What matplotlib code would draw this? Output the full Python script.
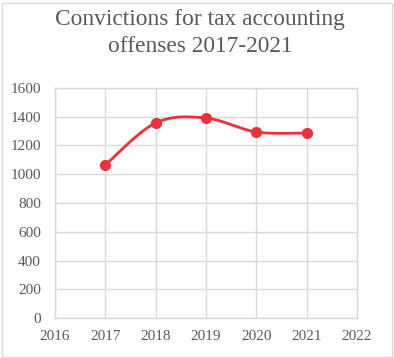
import numpy as np
import matplotlib
matplotlib.use("Agg")
import matplotlib.pyplot as plt
from matplotlib.patches import Rectangle

years = [2017, 2018, 2019, 2020, 2021]
convictions = [1064, 1357, 1391, 1294, 1287]
title = "Convictions for tax accounting\noffenses 2017-2021"
x_ticks = [2016, 2017, 2018, 2019, 2020, 2021, 2022]
y_ticks = [0, 200, 400, 600, 800, 1000, 1200, 1400, 1600]


def smooth(xs, ys, n=40):
    # Excel-like smoothed line (Catmull-Rom as cubic Bezier)
    xs = np.asarray(xs, float)
    ys = np.asarray(ys, float)
    px = np.concatenate([[xs[0]], xs, [xs[-1]]])
    py = np.concatenate([[ys[0]], ys, [ys[-1]]])
    ox, oy = [], []
    t = np.linspace(0, 1, n)
    for i in range(1, len(px) - 2):
        p0 = np.array([px[i], py[i]])
        p3 = np.array([px[i + 1], py[i + 1]])
        p1 = p0 + (np.array([px[i + 1], py[i + 1]]) - np.array([px[i - 1], py[i - 1]])) / 6
        p2 = p3 - (np.array([px[i + 2], py[i + 2]]) - np.array([px[i], py[i]])) / 6
        b = ((1 - t) ** 3)[:, None] * p0 + (3 * (1 - t) ** 2 * t)[:, None] * p1 \
            + (3 * (1 - t) * t ** 2)[:, None] * p2 + (t ** 3)[:, None] * p3
        ox.extend(b[:, 0])
        oy.extend(b[:, 1])
    return ox, oy


plt.rcParams['font.family'] = ['Liberation Serif', 'DejaVu Serif']
fig = plt.figure(figsize=(3.94, 3.58), dpi=100)
ax = fig.add_axes([55 / 394, 1 - 318 / 358, (357 - 55) / 394, (318 - 88) / 358])

grid_c = '#d9d9d9'
text_c = '#595959'
red = '#ee2f35'

sx, sy = smooth(years, convictions)
ax.plot(sx, sy, color=red, lw=2, solid_capstyle='round', zorder=3)
ax.plot(years, convictions, 'o', color=red, ms=7, zorder=4)

ax.set_xlim(2016, 2022)
ax.set_ylim(0, 1600)
ax.set_xticks(x_ticks)
ax.set_yticks(y_ticks)
ax.set_xticklabels([str(v) for v in x_ticks])
ax.grid(True, color=grid_c, lw=1)
ax.set_axisbelow(True)
for s in ax.spines.values():
    s.set_color(grid_c)
    s.set_linewidth(1)
ax.tick_params(length=0, colors=text_c, labelsize=11)
ax.tick_params(axis='y', pad=10)
ax.tick_params(axis='x', pad=9)

fig.text(0.508, 1 - 9 / 358, title, ha='center', va='top', fontsize=16.8,
         color=text_c, linespacing=1.35)

fig.patches.append(Rectangle((1.5 / 394, 1.5 / 358), 390 / 394, 354 / 358,
                             transform=fig.transFigure, fill=False,
                             edgecolor='#d9d9d9', lw=1))

fig.savefig('out.png', dpi=100)
